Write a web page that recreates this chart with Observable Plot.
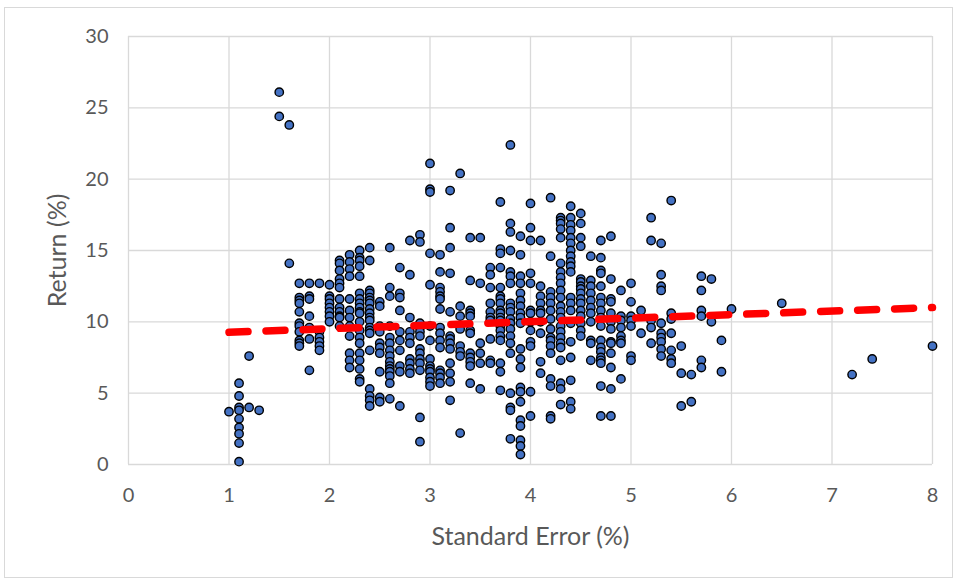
<!DOCTYPE html>
<html>
<head>
<meta charset="utf-8">
<script src="https://cdn.jsdelivr.net/npm/d3@7"></script>
<script src="https://cdn.jsdelivr.net/npm/@observablehq/plot@0.6"></script>
<style>
  html, body { margin: 0; padding: 0; background: #fff; }
  #wrap { position: relative; width: 956px; height: 581px; }
  #border { position: absolute; left: 4px; top: 7px; width: 947px; height: 569px; border: 1px solid #d9d9d9; pointer-events: none; }
  svg { display: block; }
</style>
</head>
<body>
<div id="wrap"><div id="border"></div></div>
<script>
// Standard error columns (%) and the returns (%) observed in each column
const seColumns = [1.0,1.1,1.2,1.3,1.5,1.6,1.7,1.8,1.9,2.0,2.1,2.2,2.3,2.4,2.5,2.6,2.7,2.8,2.9,3.0,3.1,3.2,3.3,3.4,3.5,3.6,3.7,3.8,3.9,4.0,4.1,4.2,4.3,4.4,4.5,4.6,4.7,4.8,4.9,5.0,5.1,5.2,5.3,5.4,5.5,5.6,5.7,5.8,5.9,6.0,6.5,7.2,7.4,8.0];
const returnColumns = [
  [3.7],
  [5.7,4.8,4.0,3.8,3.2,2.6,2.15,1.5,0.2],
  [7.6,4.0],
  [3.8],
  [26.1,24.4],
  [23.8,14.1],
  [12.7,11.7,11.5,11.3,10.7,9.9,9.7,9.3,8.7,8.5,8.3],
  [12.7,11.8,11.6,10.4,9.6,8.8,6.6],
  [12.7,9.3,8.9,8.6,8.3,8.0],
  [12.6,11.8,11.6,11.3,11.0,10.7,10.4,10.0],
  [14.3,14.1,13.6,13.0,12.7,12.4,11.6,11.0,10.7,10.4,10.3,9.7],
  [14.7,14.2,13.7,13.2,11.6,10.8,10.3,9.7,9.0,7.8,7.3,6.8],
  [15.0,14.5,14.3,13.9,13.2,12.0,11.6,11.3,11.0,10.7,10.6,10.0,9.4,8.9,8.5,7.8,7.3,6.7,6.0,5.8],
  [15.2,14.3,12.2,12.0,11.7,11.5,11.3,10.9,10.6,10.3,10.1,9.6,9.4,9.2,8.0,5.3,4.8,4.5,4.1],
  [11.4,11.1,9.7,9.3,8.5,8.2,7.8,6.5,4.7,4.4],
  [15.2,12.4,11.8,9.7,8.9,8.5,8.0,7.6,7.2,6.9,6.7,6.5,6.2,5.7,4.6],
  [13.8,12.0,11.7,10.8,9.3,8.7,8.0,6.9,6.5,4.1],
  [15.7,13.3,10.3,9.3,8.9,8.5,7.4,7.1,6.7,6.4],
  [16.1,15.6,9.9,9.6,9.3,9.0,8.1,7.8,7.4,7.1,6.6,3.3,1.6],
  [21.1,19.3,19.1,14.8,12.6,9.7,8.7,7.4,6.9,6.7,6.5,6.1,5.8,5.5],
  [14.7,13.5,12.4,12.1,11.8,11.6,10.9,9.6,9.2,8.7,8.2,6.6,6.4,6.1,5.7],
  [19.2,16.6,15.2,13.4,10.7,9.0,8.8,8.5,8.1,7.1,6.4,5.8,4.5],
  [20.4,11.1,10.4,9.5,8.3,7.9,7.6,2.2],
  [15.9,12.9,10.8,10.6,10.4,9.4,9.2,7.8,7.5,7.2,6.9,5.7],
  [15.9,12.7,8.5,7.8,7.1,5.3],
  [13.8,13.3,12.4,11.3,10.7,10.3,10.1,8.8,7.3,7.1],
  [18.4,15.1,14.8,13.8,12.4,11.8,11.6,11.3,10.8,10.6,10.3,10.1,9.7,9.4,9.0,8.7,7.1,6.5,5.2],
  [22.4,16.9,16.3,15.0,13.5,13.2,12.7,11.3,11.0,10.7,10.2,9.9,9.5,9.0,8.5,7.8,5.0,4.0,3.8,1.8],
  [16.0,14.7,13.2,12.7,12.0,11.5,11.1,10.6,10.3,9.9,8.1,7.4,6.8,5.4,5.1,4.4,3.1,2.7,1.7,1.3,0.7],
  [18.3,16.6,15.7,13.4,12.7,10.8,10.6,10.0,9.4,8.6,8.3,5.1,3.4],
  [15.7,12.5,11.8,11.3,10.8,10.6,10.0,9.2,7.2,6.4],
  [18.7,14.6,12.1,11.7,11.3,10.8,10.2,9.5,8.9,8.7,8.3,7.8,6.0,5.5,3.4,3.2],
  [17.3,17.1,16.9,16.5,15.9,14.1,13.5,13.1,12.7,12.2,11.7,11.1,10.7,10.3,9.7,9.3,8.9,8.5,8.2,7.3,5.7,5.3,4.2],
  [18.1,17.3,16.8,16.4,15.9,15.5,15.0,14.6,14.2,13.9,13.5,11.7,11.3,10.8,9.9,8.6,7.5,5.9,4.4,3.9],
  [17.6,16.9,15.9,15.3,13.0,12.8,12.5,12.3,12.0,11.6,11.3,10.8,10.4,9.9,9.4,9.0],
  [14.6,12.9,12.5,12.0,11.5,11.0,10.6,10.0,8.7,8.5,7.3],
  [15.7,14.5,13.6,13.4,12.5,11.7,11.3,10.8,10.3,9.7,8.7,8.2,7.9,7.5,7.3,7.1,5.5,3.4],
  [16.0,13.0,11.6,11.4,10.6,10.0,9.5,8.6,8.5,7.8,6.8,5.3,3.4],
  [12.2,10.4,10.1,9.6,9.0,8.7,8.5,6.0],
  [12.7,11.4,10.4,10.1,9.7,7.6,7.3],
  [10.8,9.2],
  [17.3,15.7,10.1,9.6,8.5],
  [15.5,13.3,12.5,12.2,9.9,9.2,8.9,8.6,8.1,7.6],
  [18.5,10.6,10.2,9.2,8.0,7.4,7.1],
  [8.3,6.4,4.1],
  [6.3,4.4],
  [13.2,12.2,10.8,10.4,7.3,6.8],
  [13.0,10.0],
  [8.7,6.5],
  [10.9],
  [11.3],
  [6.3],
  [7.4],
  [8.3]
];
// Linear trend line endpoints
const trendSE = [1, 8];
const trendReturn = [9.27, 11.0];
const xTicks = [0,1,2,3,4,5,6,7,8];
const yTicks = [0,5,10,15,20,25,30];

const points = seColumns.flatMap((se, i) => returnColumns[i].map(r => ({se, r})));
const trend = trendSE.map((se, i) => ({se, r: trendReturn[i]}));

const font = "Lato, 'Open Sans', sans-serif";
const chart = Plot.plot({
  width: 956,
  height: 581,
  marginLeft: 128,
  marginRight: 24,
  marginTop: 36,
  marginBottom: 117,
  style: {fontFamily: font, color: "#595959", background: "transparent"},
  x: {domain: [0, 8]},
  y: {domain: [0, 30]},
  marks: [
    Plot.ruleX(xTicks, {stroke: "#d9d9d9", strokeWidth: 1.3}),
    Plot.ruleY(yTicks, {stroke: "#d9d9d9", strokeWidth: 1.3}),
    Plot.axisX({ticks: xTicks, tickSize: 0, tickPadding: 23, fontSize: 20, tickFormat: d3.format("d"),
      label: "Standard Error (%)", labelAnchor: "center", labelArrow: "none", labelOffset: 80}),
    Plot.axisY({ticks: yTicks, tickSize: 0, tickPadding: 20, fontSize: 20, tickFormat: d3.format("d"),
      label: "Return (%)", labelAnchor: "center", labelArrow: "none", labelOffset: 80}),
    Plot.dot(points, {x: "se", y: "r", r: 4.2, fill: "#4472C4", stroke: "#000", strokeWidth: 1.4}),
    Plot.line(trend, {x: "se", y: "r", stroke: "#ff0000", strokeWidth: 7.5, strokeDasharray: "19,18", strokeLinecap: "round"})
  ]
});
chart.querySelectorAll("[aria-label='x-axis label'] text, [aria-label='y-axis label'] text").forEach(t => t.setAttribute("font-size", 25));
document.getElementById("wrap").appendChild(chart);
</script>
</body>
</html>
